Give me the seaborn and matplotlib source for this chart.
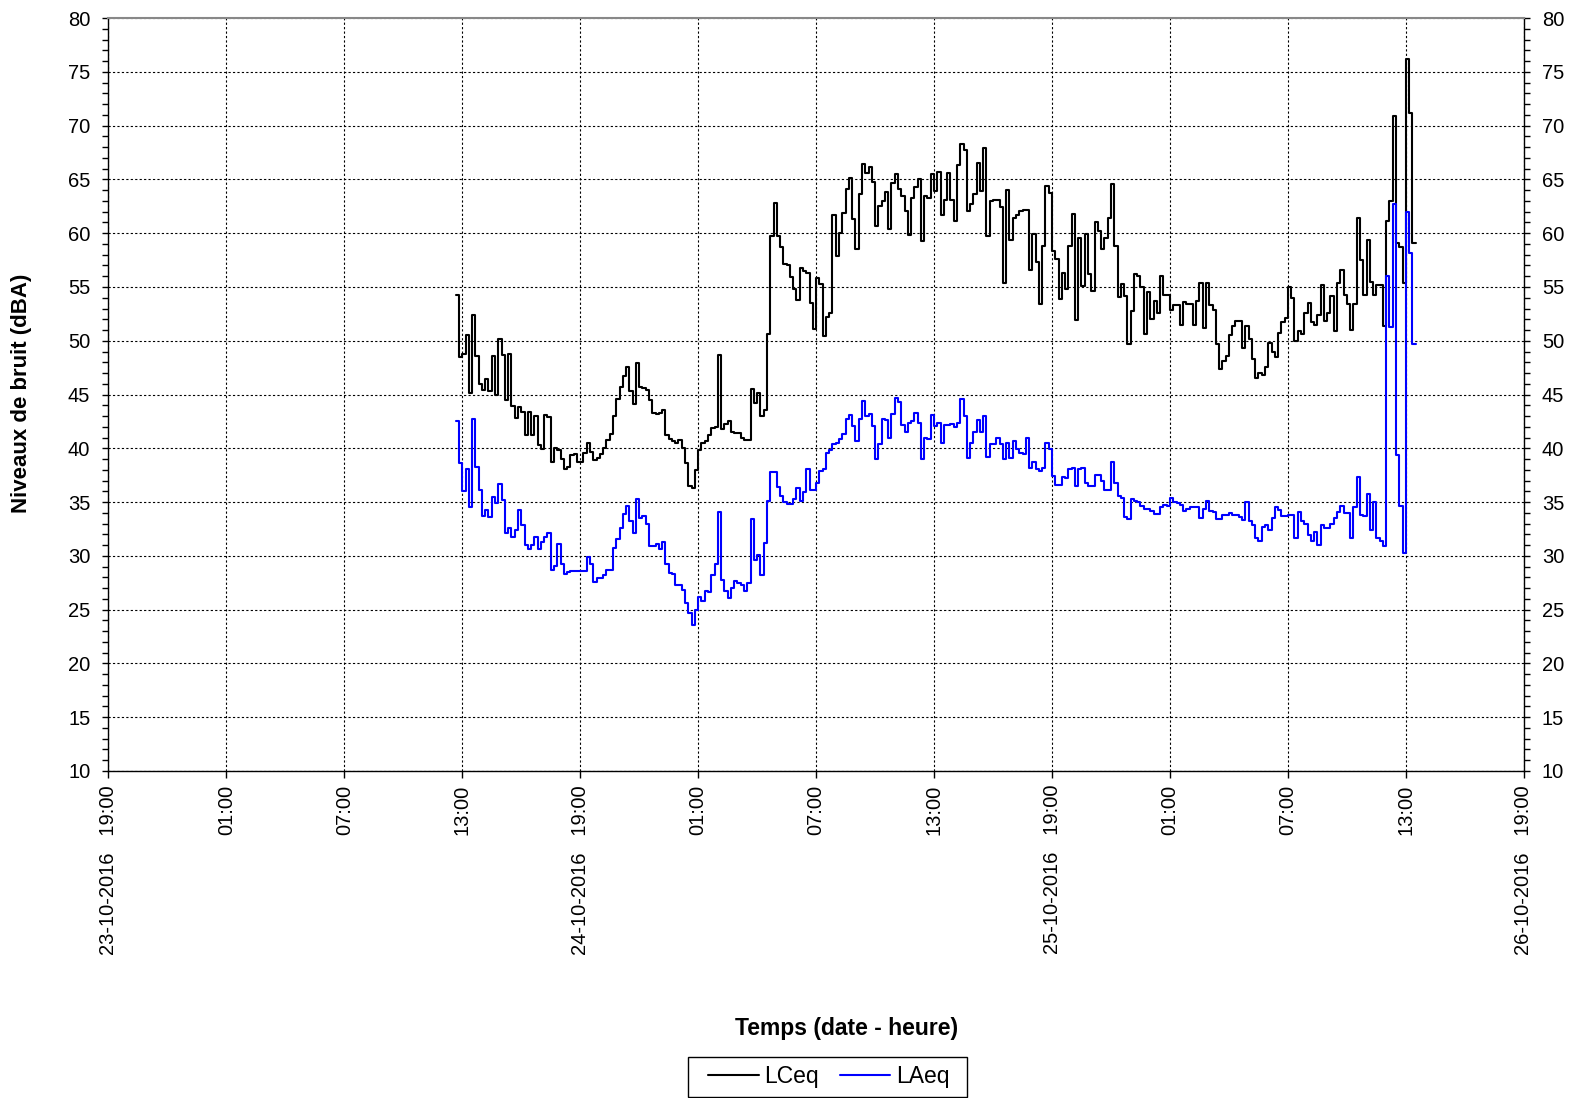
import numpy as np
import pandas as pd
import matplotlib
matplotlib.use("Agg")
import matplotlib.pyplot as plt
from matplotlib.ticker import MultipleLocator
from matplotlib.patches import Rectangle
import seaborn as sns

# ---------------- data (10-minute steps) ----------------
start_time = "2016-10-24 12:40"
step_minutes = 10

lceq = [
    54.3, 48.5, 48.8, 50.5, 45.1, 52.4, 48.6, 46.0, 45.4, 46.4,
    45.3, 48.6, 45.0, 50.2, 48.7, 44.5, 48.8, 43.9, 42.8, 43.8,
    43.4, 41.2, 43.4, 41.2, 43.0, 40.3, 39.9, 43.1, 42.9, 38.7,
    40.0, 39.8, 39.0, 38.1, 38.3, 39.4, 39.5, 38.7, 38.7, 39.6,
    40.5, 39.7, 38.9, 39.1, 39.5, 40.0, 40.8, 41.3, 43.0, 44.6,
    45.7, 46.7, 47.6, 45.3, 44.1, 47.9, 45.7, 45.6, 45.4, 44.5,
    43.3, 43.2, 43.3, 43.6, 41.2, 40.9, 40.7, 40.5, 40.8, 40.0,
    38.6, 36.5, 36.3, 38.0, 39.8, 40.5, 40.7, 41.2, 41.9, 42.0,
    48.7, 41.8, 42.3, 42.5, 41.5, 41.4, 41.4, 41.0, 40.8, 40.8,
    45.5, 44.2, 45.1, 43.0, 43.6, 50.6, 59.7, 62.8, 59.7, 58.7,
    57.1, 57.0, 55.9, 54.8, 53.8, 56.8, 56.5, 56.3, 53.5, 51.1,
    55.8, 55.3, 50.4, 52.2, 52.6, 61.7, 57.9, 60.0, 61.9, 64.1,
    65.1, 61.3, 58.5, 63.6, 66.4, 65.6, 66.2, 64.8, 60.7, 62.5,
    63.0, 63.8, 60.4, 64.7, 65.5, 64.1, 63.5, 62.1, 59.8, 63.3,
    64.3, 65.0, 59.3, 63.5, 63.3, 65.5, 63.9, 65.7, 61.7, 63.1,
    65.6, 63.1, 61.1, 66.3, 68.3, 67.7, 62.1, 62.7, 63.6, 66.5,
    63.9, 67.9, 59.7, 63.0, 63.1, 63.1, 62.4, 55.4, 64.0, 59.4,
    61.4, 61.7, 62.1, 62.2, 62.2, 56.6, 59.9, 57.3, 53.4, 58.8,
    64.4, 63.7, 58.3, 57.6, 53.9, 56.3, 54.8, 58.8, 61.8, 51.9,
    59.6, 55.1, 59.9, 56.2, 54.6, 61.0, 60.2, 58.5, 59.6, 61.4,
    64.6, 58.8, 54.1, 55.3, 54.2, 49.7, 52.8, 56.2, 56.0, 55.0,
    50.6, 54.5, 52.0, 53.7, 52.6, 56.0, 54.3, 54.3, 52.9, 53.3,
    53.3, 51.5, 53.6, 53.4, 53.4, 51.5, 53.7, 55.4, 51.2, 55.4,
    53.3, 52.9, 49.7, 47.4, 48.1, 48.6, 50.5, 51.4, 51.8, 51.8,
    49.3, 51.4, 50.2, 48.3, 46.5, 47.0, 46.8, 47.6, 49.8, 49.0,
    48.5, 50.7, 51.7, 52.1, 55.0, 54.0, 50.0, 50.9, 50.6, 52.6,
    53.5, 51.7, 51.5, 52.4, 55.2, 51.8, 52.6, 54.2, 50.9, 55.4,
    56.6, 54.3, 53.4, 51.0, 53.4, 61.4, 57.5, 54.3, 59.4, 55.5,
    54.3, 55.2, 55.2, 51.4, 61.1, 63.0, 70.9, 59.1, 58.7, 55.4,
    76.2, 71.2, 59.1,
]

laeq = [
    42.5, 38.6, 36.0, 38.1, 34.5, 42.7, 38.3, 36.1, 33.7, 34.3,
    33.6, 35.5, 34.9, 36.7, 35.2, 32.1, 32.6, 31.8, 32.4, 34.3,
    32.9, 31.0, 30.6, 31.0, 31.8, 30.6, 31.3, 31.8, 32.1, 28.7,
    29.1, 31.1, 29.2, 28.3, 28.5, 28.6, 28.6, 28.6, 28.6, 28.6,
    29.9, 29.2, 27.6, 27.9, 27.9, 28.2, 28.7, 28.7, 30.7, 31.6,
    32.6, 33.9, 34.6, 33.2, 32.1, 35.3, 33.5, 33.7, 33.0, 30.9,
    30.9, 31.1, 30.6, 31.3, 29.2, 28.4, 28.3, 27.3, 27.3, 26.8,
    25.6, 24.7, 23.6, 25.0, 26.2, 25.8, 26.7, 26.6, 28.2, 29.2,
    34.1, 27.8, 26.7, 26.1, 27.0, 27.7, 27.5, 27.3, 26.7, 27.5,
    33.4, 29.6, 30.1, 28.2, 31.2, 35.1, 37.8, 37.8, 36.4, 35.6,
    35.0, 34.8, 34.8, 35.3, 36.3, 35.1, 35.9, 38.1, 36.1, 36.1,
    36.8, 37.9, 38.1, 39.6, 39.8, 40.4, 40.5, 40.9, 41.3, 42.7,
    43.1, 42.1, 40.7, 42.7, 44.4, 43.0, 43.2, 42.1, 39.0, 40.4,
    42.7, 42.6, 41.0, 43.2, 44.7, 44.3, 42.2, 41.5, 42.4, 42.5,
    43.3, 42.4, 39.0, 41.0, 40.9, 43.1, 42.1, 42.4, 40.5, 42.2,
    42.2, 42.3, 42.0, 42.4, 44.6, 43.0, 39.1, 40.5, 41.5, 42.6,
    41.5, 43.0, 39.2, 40.4, 40.4, 41.0, 40.4, 39.0, 40.5, 39.1,
    40.7, 39.9, 39.6, 39.5, 41.0, 38.2, 38.7, 38.1, 37.9, 38.2,
    40.5, 39.9, 37.4, 36.6, 36.6, 37.3, 37.2, 38.1, 38.2, 36.5,
    38.1, 38.2, 36.8, 36.5, 36.5, 37.5, 37.5, 37.0, 36.1, 36.1,
    38.7, 36.8, 35.6, 35.4, 33.6, 33.4, 35.3, 35.1, 35.0, 34.6,
    34.4, 34.4, 34.2, 33.9, 33.9, 34.5, 34.7, 34.6, 35.4, 35.0,
    34.9, 34.7, 34.2, 34.4, 34.5, 34.5, 34.5, 33.5, 34.4, 35.1,
    34.2, 34.1, 33.4, 33.4, 33.8, 33.8, 34.0, 33.8, 33.8, 33.6,
    33.3, 35.0, 33.2, 32.9, 31.7, 31.4, 32.7, 32.9, 32.4, 33.5,
    34.5, 34.3, 33.7, 33.7, 33.8, 33.8, 31.7, 34.1, 33.2, 33.0,
    31.9, 31.4, 32.2, 31.0, 32.9, 32.6, 32.6, 33.0, 33.5, 34.1,
    34.6, 34.0, 34.0, 31.7, 34.5, 37.3, 33.8, 33.7, 35.8, 32.4,
    35.0, 31.7, 31.4, 30.9, 56.0, 51.3, 62.7, 39.4, 34.6, 30.3,
    62.0, 58.2, 49.7,
]

series_names = ["LCeq", "LAeq"]
series_colors = ["#000000", "#0000FF"]

x_start = "2016-10-23 19:00"
x_end = "2016-10-26 19:00"
tick_step = "6h"
y_ticks = list(range(10, 85, 5))
x_label = "Temps (date - heure)"
y_label = "Niveaux de bruit (dBA)"

# ---------------- build table ----------------
n = len(lceq)
times = pd.date_range(start_time, periods=n + 1, freq=f"{step_minutes}min")
frames = []
for name, vals in zip(series_names, [lceq, laeq]):
    frames.append(pd.DataFrame({"time": times,
                                "value": list(vals) + [vals[-1]],
                                "series": name}))
df = pd.concat(frames, ignore_index=True)

# ---------------- style ----------------
sns.set_theme(style="white", rc={
    "text.color": "black", "axes.labelcolor": "black",
    "xtick.color": "black", "ytick.color": "black",
    "axes.edgecolor": "black",
})
plt.rcParams["font.family"] = ["Liberation Sans", "DejaVu Sans"]

W, H = 1574, 1098
fig = plt.figure(figsize=(W / 100, H / 100), dpi=100)
ax_l, ax_r, ax_t, ax_b = 108.4, 1523.8, 18.1, 771.0
ax = fig.add_axes([ax_l / W, 1 - ax_b / H, (ax_r - ax_l) / W, (ax_b - ax_t) / H])

sns.lineplot(data=df, x="time", y="value", hue="series",
             hue_order=series_names,
             palette=dict(zip(series_names, series_colors)),
             estimator=None, drawstyle="steps-post", linewidth=1.5,
             ax=ax, legend=True)

handles, labels = ax.get_legend_handles_labels()
if ax.get_legend() is not None:
    ax.get_legend().remove()

# axes limits & ticks
ax.set_xlim(pd.Timestamp(x_start), pd.Timestamp(x_end))
ax.set_ylim(y_ticks[0], y_ticks[-1])

xt = pd.date_range(x_start, x_end, freq=tick_step)


def fmt_tick(t):
    if t.hour == 19:
        return t.strftime("%d-%m-%Y") + "   " + t.strftime("%H:%M")
    return t.strftime("%H:%M")


xlabels = [fmt_tick(t) for t in xt]
ax.set_xticks(xt)
ax.set_xticklabels(xlabels, rotation=90, va="top", ha="center")
ax.set_yticks(y_ticks)
ax.yaxis.set_minor_locator(MultipleLocator(1))

ax.tick_params(axis="y", which="both", direction="out", length=4, width=1,
               left=True, right=True, labelleft=True, labelright=True,
               labelsize=14.5, pad=9)
ax.tick_params(axis="x", which="major", direction="out", length=5, width=1,
               bottom=True, labelsize=14.5, pad=5)
ax.tick_params(axis="x", which="minor", bottom=False)

ax.set_xlabel("")
ax.set_ylabel("")

ax.grid(True, which="major", color="black", linestyle=(0, (2, 2)), linewidth=0.8)
ax.set_axisbelow(True)

for side in ["left", "right", "bottom"]:
    ax.spines[side].set_color("black")
    ax.spines[side].set_linewidth(1.0)
ax.spines["top"].set_color("#888888")
ax.spines["top"].set_linewidth(1.5)

# axis titles
fig.text(847 / W, 1 - 1029 / H, x_label, ha="center", va="center",
         fontsize=16.5, fontweight="bold")
fig.text(22 / W, 1 - 393.5 / H, y_label, ha="center", va="center",
         rotation=90, fontsize=16, fontweight="bold")

# legend
leg = fig.legend(handles, labels, loc="center",
                 bbox_to_anchor=(828.7 / W, 1 - 1077 / H),
                 ncol=2, frameon=False, fontsize=16.5,
                 handlelength=2.2, handletextpad=0.25, columnspacing=0.9)
for line in leg.get_lines():
    line.set_linewidth(1.5)
fig.patches.append(Rectangle((688.3 / W, 1 - 1096.7 / H), 279 / W, 39.4 / H,
                             transform=fig.transFigure, fill=False,
                             edgecolor="black", linewidth=1.0))

fig.savefig("out.png", dpi=100)
